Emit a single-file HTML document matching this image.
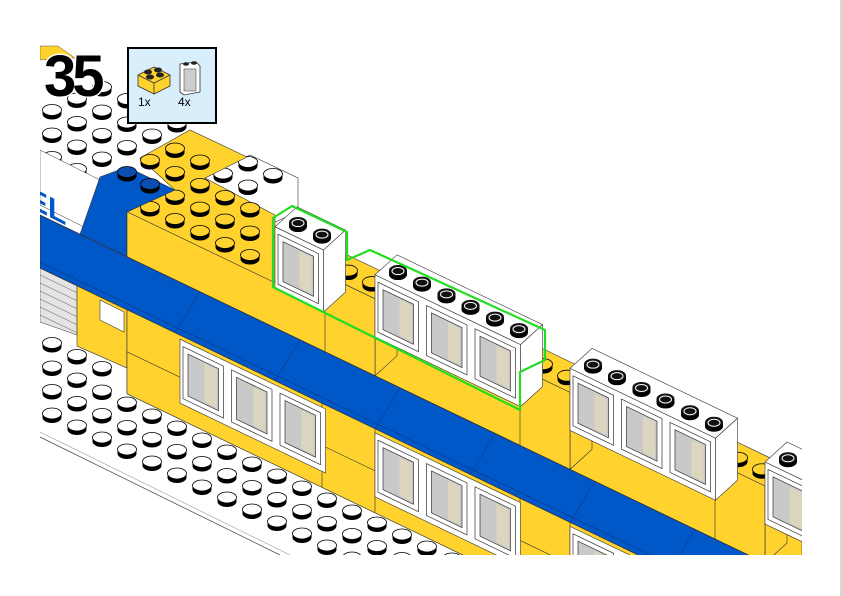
<!DOCTYPE html>
<html><head><meta charset="utf-8"><style>
html,body{margin:0;padding:0;background:#fff;overflow:hidden;}
#wrap{position:relative;width:842px;height:596px;overflow:hidden;background:#fff;}
svg{position:absolute;left:0;top:0;}
</style></head><body><div id="wrap">
<svg id="s" width="842" height="596" viewBox="0 0 842 596">
<defs><clipPath id="cp"><rect x="40" y="40" width="762" height="515"/></clipPath></defs>
<g id="g" clip-path="url(#cp)"></g>
<line x1="841" y1="0" x2="841" y2="596" stroke="#ccc" stroke-width="1.5"/>
<text x="44" y="96" font-family="Liberation Sans, sans-serif" font-weight="bold" font-size="58" fill="#000" stroke="#fff" stroke-width="3" paint-order="stroke" letter-spacing="-4">35</text>
<rect x="128" y="48" width="88" height="75" fill="#d8eefb" stroke="#000" stroke-width="2"/>
<polygon points="138,75 154,67 170,75 170,86 154,94 138,86" fill="#ffd22e" stroke="#333" stroke-width="0.8"/>
<polyline points="138,75 154,83 170,75" fill="none" stroke="#333" stroke-width="0.8"/><line x1="154" y1="83" x2="154" y2="94" stroke="#333" stroke-width="0.8"/>
<ellipse cx="148" cy="72" rx="4" ry="2.5" fill="#222"/><ellipse cx="158" cy="70" rx="4" ry="2.5" fill="#222"/><ellipse cx="150" cy="77" rx="4" ry="2.5" fill="#222"/><ellipse cx="160" cy="75" rx="4" ry="2.5" fill="#222"/>
<polygon points="180,64 196,62 200,66 200,92 184,95 180,92" fill="#fff" stroke="#333" stroke-width="0.8"/>
<rect x="184" y="69" width="12" height="22" fill="#ccc" stroke="#555" stroke-width="0.6"/>
<ellipse cx="186" cy="64" rx="3" ry="1.8" fill="#222"/><ellipse cx="194" cy="63" rx="3" ry="1.8" fill="#222"/>
<text x="138" y="106" font-family="Liberation Sans, sans-serif" font-size="12" fill="#000">1x</text>
<text x="178" y="106" font-family="Liberation Sans, sans-serif" font-size="12" fill="#000">4x</text>
</svg></div>
<script>
var g=document.getElementById('g'),NS='http://www.w3.org/2000/svg';
var S=0.48,Y=function(x,y0){return y0+S*(x-40);};
var YEL='#ffd22e',BLU='#0057c8',LN='#333';
function el(t,a){var e=document.createElementNS(NS,t);for(var k in a)e.setAttribute(k,a[k]);g.appendChild(e);return e;}
function poly(pts,fill,sw){return el('polygon',{points:pts.map(function(p){return p[0]+','+p[1]}).join(' '),fill:fill,stroke:LN,'stroke-width':sw==null?0.6:sw});}
function face(x1,x2,t,b,fill){poly([[x1,Y(x1,t)],[x2,Y(x2,t)],[x2,Y(x2,b)],[x1,Y(x1,b)]],fill);}
var D=[22,-20];
function box(x1,x2,t,b,fill){
 poly([[x1,Y(x1,t)],[x2,Y(x2,t)],[x2+D[0],Y(x2,t)+D[1]],[x1+D[0],Y(x1,t)+D[1]]],fill);
 poly([[x2,Y(x2,t)],[x2+D[0],Y(x2,t)+D[1]],[x2+D[0],Y(x2,b)+D[1]],[x2,Y(x2,b)]],fill);
 face(x1,x2,t,b,fill);}
function stud(cx,cy,top){
 el('ellipse',{cx:cx,cy:cy+4,rx:9.5,ry:5.5,fill:'#000'});
 el('rect',{x:cx-9.5,y:cy,width:19,height:4,fill:'#000'});
 el('ellipse',{cx:cx,cy:cy,rx:9.5,ry:5.5,fill:top,stroke:'#000','stroke-width':0.8});}
function wstud(cx,cy){
 el('ellipse',{cx:cx,cy:cy+4,rx:9,ry:5.5,fill:'#000'});
 el('rect',{x:cx-9,y:cy,width:18,height:4,fill:'#000'});
 el('ellipse',{cx:cx,cy:cy,rx:9,ry:5.5,fill:'#111'});
 el('ellipse',{cx:cx,cy:cy+0.5,rx:6,ry:3.5,fill:'none',stroke:'#fff','stroke-width':1});}
function inside(p,pl){var c=false;for(var i=0,j=pl.length-1;i<pl.length;j=i++){var a=pl[i],b=pl[j];if(((a[1]>p[1])!=(b[1]>p[1]))&&(p[0]<(b[0]-a[0])*(p[1]-a[1])/(b[1]-a[1])+a[0]))c=!c;}return c;}
function lattice(o,pl,top){var L=[];for(var i=-30;i<30;i++)for(var j=-30;j<30;j++){var x=o[0]+25*i+25*j,y=o[1]+12*i-11.5*j;if(y<566&&x<810&&inside([x,y],pl))L.push([x,y]);}
 L.sort(function(a,b){return a[1]-b[1]});L.forEach(function(p){stud(p[0],p[1],top)});}

poly([[40,46],[58,46],[75,58],[40,60]],YEL,0.4);
lattice([52,110],[[42,88],[110,84],[188,126],[140,156],[95,180],[42,172]],'#fff');
poly([[40,150],[100,180],[100,235],[40,205]],'#fff',0.5);
var t=el('text',{x:0,y:0,'font-family':'Liberation Sans, sans-serif','font-weight':'bold','font-size':30,fill:BLU,transform:'translate(28,206) skewY(27)'});t.textContent='EL';
poly([[205,178],[250,155],[298,178],[298,212],[275,222]],'#fff',0.6);
lattice([248,162],[[212,176],[250,156],[290,176],[250,197]],'#fff');
poly([[127,212],[175,190],[140,158],[190,130],[247,157],[205,178],[275,215],[275,283]],YEL,0.6);
lattice([200,137],[[138,207],[178,190],[148,160],[190,136],[232,157],[198,178],[270,214],[270,275]],YEL);
poly([[80,Y(80,215)],[100,177],[127,167],[175,190],[127,212],[127,Y(127,215)]],BLU,0.6);
stud(127,172,'#0a4fb0');stud(150,184,'#0a4fb0');
face(127,802,170,215,YEL);
[[325,375],[520,570],[715,765]].forEach(function(r){box(r[0],r[1],138,215,YEL);
 [12,36].forEach(function(o){var x=r[0]+o;stud(x+11,Y(x,138)-10,YEL);});});
function windows(x1,n,t,b,top){var w=48.5,x2=x1+w*n;if(top)box(x1,x2,t,b,'#fff');else face(x1,x2,t,b,'#fff');
 for(var k=0;k<n;k++){var a=x1+k*w;
  poly([[a+3,Y(a+3,t+6)],[a+w-5,Y(a+w-5,t+6)],[a+w-5,Y(a+w-5,b-6)],[a+3,Y(a+3,b-6)]],'#fff',0.7);
  poly([[a+8,Y(a+8,t+11)],[a+w-10,Y(a+w-10,t+11)],[a+w-10,Y(a+w-10,b-11)],[a+8,Y(a+8,b-11)]],'#c9c9c9',0.7);
  poly([[a+w-24,Y(a+w-24,t+13)],[a+w-12,Y(a+w-12,t+13)],[a+w-12,Y(a+w-12,b-13)],[a+w-24,Y(a+w-24,b-13)]],'#ddd6bf',0);
  if(top){[12,36].forEach(function(o){var x=a+o;wstud(x+11,Y(x,t)-10);});}
 }}
windows(275,1,114,176,true);
windows(375,3,114,176,true);
windows(570,3,114,176,true);
windows(765,1,114,176,true);
el('polygon',{points:'273,287 273,218 292,206 347,232 347,260 370,250 545,330 545,360 520,372 520,410',fill:'none',stroke:'#22dd22','stroke-width':2.2,'stroke-linejoin':'round'});
poly([[40,Y(40,268)],[77,Y(77,268)],[77,335],[40,322]],'#e4e4e4',0.5);
for(var i=0;i<6;i++)el('line',{x1:40,y1:Y(40,275+i*8),x2:77,y2:Y(77,275+i*8),stroke:'#777','stroke-width':0.6});
poly([[77,Y(77,268)],[127,Y(127,268)],[127,368],[77,346]],YEL,0.6);
poly([[100,300],[124,312],[124,332],[100,320]],'#fff',0.6);
poly([[40,Y(40,215)],[802,Y(802,215)],[802,Y(802,268)],[40,Y(40,268)]],BLU,0.8);
el('line',{x1:40,y1:Y(40,262),x2:802,y2:Y(802,262),stroke:'#0a3f90','stroke-width':0.8});
[200,300,400,495,595,695].forEach(function(x){el('line',{x1:x,y1:Y(x,215),x2:x-25,y2:Y(x-25,268),stroke:'#0a3f90','stroke-width':0.7});});
face(127,802,268,352,YEL);
face(127,802,310,352,YEL);
[322,375,520,570,715,765].forEach(function(x){el('line',{x1:x,y1:Y(x,268),x2:x,y2:Y(x,352),stroke:LN,'stroke-width':0.6});});
windows(180,3,272,336,false);
windows(375,3,272,336,false);
windows(570,3,272,336,false);
windows(765,1,272,336,false);
el('line',{x1:40,y1:437,x2:280,y2:555,stroke:'#555','stroke-width':0.8});
el('line',{x1:40,y1:432,x2:290,y2:555,stroke:'#999','stroke-width':0.6});
lattice([52,343],[[45,336],[125,374],[130,398],[620,634],[400,603],[45,429]],'#fff');
</script>
</body></html>
